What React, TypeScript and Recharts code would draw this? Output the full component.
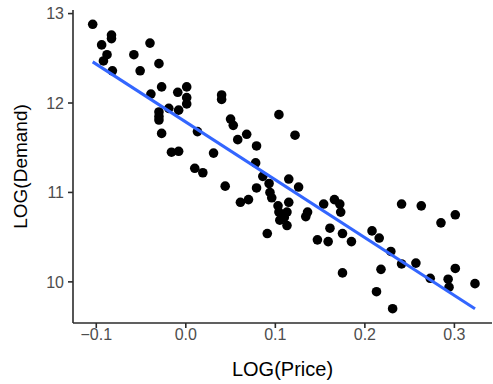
import { Label, Scatter, ScatterChart, XAxis, YAxis } from 'recharts';

// log price / log demand pairs
const logPrice = [
    -0.104, -0.083, -0.083, -0.094, -0.088, -0.092, -0.082, -0.04, -0.058, -0.03,
    -0.051, -0.027, -0.039, -0.009, 0.001, 0.001, 0.001, -0.019, -0.008, -0.03,
    -0.03, -0.03, -0.027, -0.016, -0.008, 0.01, 0.019, 0.013, 0.04, 0.04,
    0.05, 0.053, 0.068, 0.058, 0.079, 0.104, 0.122, 0.031, 0.078, 0.044,
    0.086, 0.093, 0.115, 0.126, 0.079, 0.094, 0.096, 0.061, 0.07, 0.115,
    0.104, 0.113, 0.105, 0.113, 0.136, 0.134, 0.091, 0.154, 0.166, 0.172,
    0.173, 0.161, 0.175, 0.185, 0.147, 0.159, 0.208, 0.216, 0.241, 0.263,
    0.285, 0.301, 0.229, 0.241, 0.257, 0.273, 0.293, 0.301, 0.294, 0.323,
    0.175, 0.218, 0.213, 0.231, 0.103, 0.11,
];
const logDemand = [
    12.88, 12.76, 12.72, 12.65, 12.54, 12.47, 12.36, 12.67, 12.54, 12.44,
    12.36, 12.18, 12.1, 12.12, 12.18, 12.06, 11.99, 11.94, 11.92, 11.9,
    11.85, 11.81, 11.66, 11.45, 11.46, 11.27, 11.22, 11.68, 12.09, 12.04,
    11.82, 11.75, 11.65, 11.59, 11.52, 11.87, 11.64, 11.44, 11.33, 11.07,
    11.18, 11.1, 11.15, 11.06, 11.05, 11.0, 10.94, 10.89, 10.92, 10.89,
    10.78, 10.78, 10.69, 10.63, 10.78, 10.73, 10.54, 10.87, 10.92, 10.87,
    10.78, 10.6, 10.54, 10.45, 10.47, 10.45, 10.57, 10.49, 10.87, 10.85,
    10.66, 10.75, 10.34, 10.2, 10.21, 10.04, 10.03, 10.15, 9.94, 9.98,
    10.1, 10.14, 9.89, 9.7, 10.85, 10.72,
];

// ends of the fitted line
const fitPrice = [-0.104, 0.323];
const fitDemand = [12.46, 9.7];

const xTicks = [-0.1, 0.0, 0.1, 0.2, 0.3];
const yTicks = [10, 11, 12, 13];

const FONT = '"Liberation Sans", Arial, Helvetica, sans-serif';

const points = logPrice.map((x, i) => ({ x, y: logDemand[i] }));
const fit = fitPrice.map((x, i) => ({ x, y: fitDemand[i] }));

const fmtX = (v: number) => {
    const s = Math.abs(v).toFixed(1);
    return v < 0 ? '\u2212' + s : s;
};

export default function App() {
    return (
        <div style={{ position: 'absolute', left: 0, top: 0, background: '#fff' }}>
            <ScatterChart
                width={493}
                height={384}
                margin={{ top: 10, right: 1, left: 0, bottom: 0 }}
            >
                <XAxis
                    type="number"
                    dataKey="x"
                    domain={[-0.126, 0.342]}
                    ticks={xTicks}
                    tickFormatter={fmtX}
                    height={61}
                    axisLine={{ stroke: '#2b2b2b', strokeWidth: 1.6 }}
                    tickLine={{ stroke: '#2b2b2b', strokeWidth: 1.6 }}
                    tickSize={5}
                    tickMargin={1}
                    tick={{ fill: '#4d4d4d', fontSize: 16, fontFamily: FONT }}
                    allowDataOverflow
                >
                    <Label
                        content={({ viewBox }: any) => (
                            <text
                                x={viewBox.x + viewBox.width / 2}
                                y={376}
                                textAnchor="middle"
                                fontSize={20}
                                fontFamily={FONT}
                                fill="#000"
                            >
                                LOG(Price)
                            </text>
                        )}
                    />
                </XAxis>
                <YAxis
                    type="number"
                    dataKey="y"
                    domain={[9.54, 13.04]}
                    ticks={yTicks}
                    width={73}
                    axisLine={{ stroke: '#2b2b2b', strokeWidth: 1.6 }}
                    tickLine={{ stroke: '#2b2b2b', strokeWidth: 1.6 }}
                    tickSize={5}
                    tickMargin={4}
                    tick={{ fill: '#4d4d4d', fontSize: 16, fontFamily: FONT }}
                    allowDataOverflow
                >
                    <Label
                        content={({ viewBox }: any) => {
                            const cy = viewBox.y + viewBox.height / 2;
                            return (
                                <text
                                    x={27}
                                    y={cy}
                                    transform={`rotate(-90, 27, ${cy})`}
                                    textAnchor="middle"
                                    fontSize={19}
                                    fontFamily={FONT}
                                    fill="#000"
                                >
                                    LOG(Demand)
                                </text>
                            );
                        }}
                    />
                </YAxis>
                <Scatter
                    data={points}
                    isAnimationActive={false}
                    shape={(p: any) => <circle cx={p.cx} cy={p.cy} r={4.8} fill="#000" />}
                />
                <Scatter
                    data={fit}
                    isAnimationActive={false}
                    line={{ stroke: '#3366FF', strokeWidth: 3 }}
                    shape={() => <g />}
                />
            </ScatterChart>
        </div>
    );
}
